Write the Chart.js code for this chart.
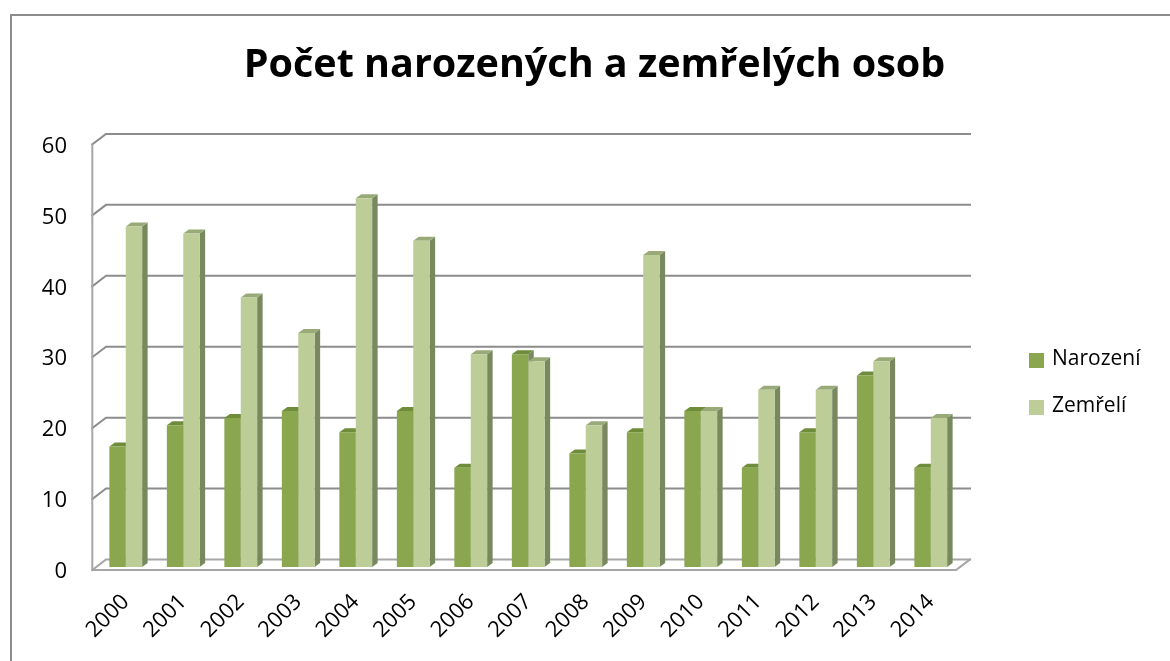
<!DOCTYPE html>
<html lang="cs">
<head>
<meta charset="utf-8">
<title>Počet narozených a zemřelých osob</title>
<script src="https://cdn.jsdelivr.net/npm/chart.js@4.4.1/dist/chart.umd.min.js"></script>
<style>
    html, body { margin: 0; padding: 0; background: #fff; overflow: hidden; }
    body { width: 1170px; height: 661px; position: relative; }
    .frame {
        position: absolute; left: 10px; top: 14px; width: 1200px; height: 700px;
        border-left: 2px solid #8c8c8c; border-top: 2px solid #8c8c8c;
    }
    #chartBox { position: absolute; left: 12px; top: 16px; width: 1165px; height: 645px; }
    #legend {
        position: absolute; left: 1029px; top: 343px;
        font-family: "Open Sans", sans-serif; font-size: 21px; color: #000;
    }
    #legend .item { height: 47px; display: flex; align-items: flex-start; }
    #legend .swatch { width: 15px; height: 15px; margin-top: 10px; margin-right: 8px; }
</style>
</head>
<body>
<div class="frame"></div>
<div id="chartBox"><canvas id="birthsChart" width="1165" height="645"></canvas></div>
<div id="legend"></div>
<script>
"use strict";

const years = ['2000', '2001', '2002', '2003', '2004', '2005', '2006', '2007',
    '2008', '2009', '2010', '2011', '2012', '2013', '2014'];
const narozeni = [17, 20, 21, 22, 19, 22, 14, 30, 16, 19, 22, 14, 19, 27, 14];
const zemreli = [48, 47, 38, 33, 52, 46, 30, 29, 20, 44, 22, 25, 25, 29, 21];
const yTicks = [0, 10, 20, 30, 40, 50, 60];

const seriesNames = ['Narození', 'Zemřelí'];
const frontColors = ['#8aa64f', '#bccd97'];
const topColors = ['#6f8c3a', '#98aa78'];
const sideColor = '#79895f';

// fake 3D: back wall gridlines, left wall, floor and bar side/top faces
const depthPlugin = {
    id: 'depth3d',
    beforeDatasetsDraw(chart) {
        const ctx = chart.ctx;
        const area = chart.chartArea;
        const y = chart.scales.y;
        const frontX = area.left - 4.7;
        const backX = area.left + 9;
        const backRight = area.right + 10.5;
        const frontRight = area.right - 3.5;

        ctx.save();
        ctx.lineCap = 'square';
        yTicks.forEach(v => {
            const yb = y.getPixelForValue(v) - 7.5;
            ctx.strokeStyle = v === 0 ? '#a6a6a6' : '#8c8c8c';
            ctx.lineWidth = 2;
            ctx.beginPath();
            ctx.moveTo(frontX, yb + 10.5);
            ctx.lineTo(backX, yb);
            ctx.lineTo(backRight, yb);
            ctx.stroke();
        });

        // left wall front edge and floor front edge
        const y0 = y.getPixelForValue(0) + 3;
        ctx.strokeStyle = '#a6a6a6';
        ctx.beginPath();
        ctx.moveTo(frontX, y.getPixelForValue(60) + 3);
        ctx.lineTo(frontX, y0);
        ctx.lineTo(frontRight, y0);
        ctx.lineTo(backRight, y0 - 10.5);
        ctx.stroke();

        // side and top faces of bars
        const dx = 5.5, dy = 4;
        chart.data.datasets.forEach((ds, i) => {
            const meta = chart.getDatasetMeta(i);
            meta.data.forEach(bar => {
                const left = bar.x - bar.width / 2;
                const right = bar.x + bar.width / 2;
                ctx.fillStyle = sideColor;
                ctx.beginPath();
                ctx.moveTo(right, bar.y);
                ctx.lineTo(right + dx, bar.y - dy);
                ctx.lineTo(right + dx, bar.base - dy);
                ctx.lineTo(right, bar.base);
                ctx.closePath();
                ctx.fill();

                ctx.fillStyle = topColors[i];
                ctx.beginPath();
                ctx.moveTo(left, bar.y);
                ctx.lineTo(left + dx, bar.y - dy);
                ctx.lineTo(right + dx, bar.y - dy);
                ctx.lineTo(right, bar.y);
                ctx.closePath();
                ctx.fill();
            });
        });
        ctx.restore();
    }
};

const legendBox = document.getElementById('legend');
seriesNames.forEach((name, i) => {
    const item = document.createElement('div');
    item.className = 'item';
    item.innerHTML = '<span class="swatch" style="background:' + frontColors[i] + '"></span><span>' + name + '</span>';
    legendBox.appendChild(item);
});

const ctx = document.getElementById('birthsChart').getContext('2d');
new Chart(ctx, {
    type: 'bar',
    data: {
        labels: years,
        datasets: [
            { label: seriesNames[0], data: narozeni, backgroundColor: frontColors[0] },
            { label: seriesNames[1], data: zemreli, backgroundColor: frontColors[1] }
        ]
    },
    options: {
        responsive: false,
        animation: false,
        events: [],
        layout: { padding: 0 },
        datasets: {
            bar: { categoryPercentage: 0.57, barPercentage: 1.0 }
        },
        plugins: {
            legend: { display: false },
            tooltip: { enabled: false },
            title: {
                display: true,
                text: 'Počet narozených a zemřelých osob',
                color: '#000',
                font: { family: 'Open Sans', size: 39.5, weight: 'bold' },
                padding: { top: 26, bottom: 52 }
            }
        },
        scales: {
            x: {
                grid: { display: false, drawTicks: false },
                border: { display: false },
                ticks: {
                    color: '#000',
                    font: { family: 'Open Sans', size: 22 },
                    minRotation: 45,
                    maxRotation: 45,
                    padding: 22
                },
                afterFit(scale) { scale.height = 94; }
            },
            y: {
                min: 0,
                max: 60,
                grid: { display: false, drawTicks: false },
                border: { display: false },
                ticks: {
                    stepSize: 10,
                    color: '#000',
                    font: { family: 'Open Sans', size: 22 },
                    padding: 30,
                    labelOffset: 5
                },
                afterFit(scale) { scale.width = 85; }
            },
            // empty right-hand box that reserves room for the legend
            spacer: {
                type: 'linear',
                position: 'right',
                grid: { display: false, drawTicks: false },
                border: { display: false },
                ticks: { display: false },
                afterFit(scale) { scale.width = 217.5; }
            }
        }
    },
    plugins: [depthPlugin]
});
</script>
</body>
</html>
